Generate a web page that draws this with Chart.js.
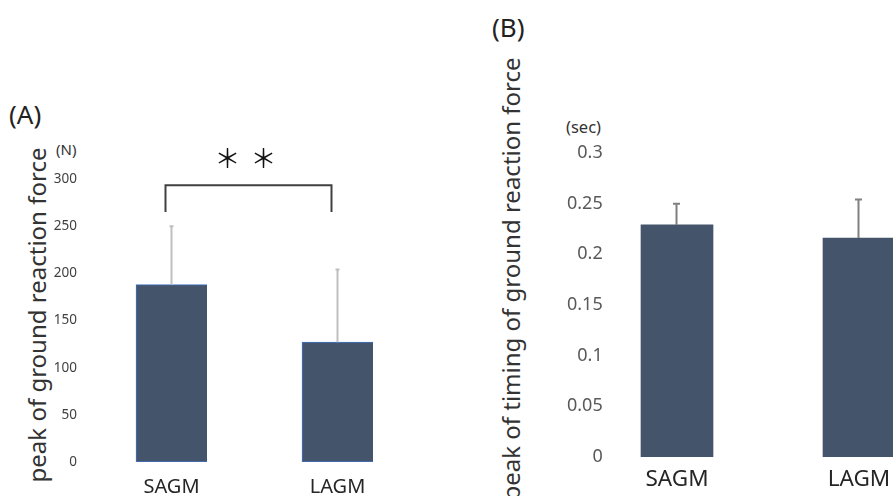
<!DOCTYPE html>
<html>
<head>
<meta charset="utf-8">
<script src="https://cdn.jsdelivr.net/npm/chart.js@4.4.1/dist/chart.umd.min.js"></script>
<style>
  html, body { margin: 0; padding: 0; width: 893px; height: 496px; overflow: hidden; background: #fff; font-family: "Noto Sans", sans-serif; }
  .box { position: absolute; top: 0; height: 496px; }
  #boxA { left: 0; width: 460px; }
  #boxB { left: 480px; width: 480px; }
  .lbl { position: absolute; white-space: nowrap; line-height: 1; color: #222; }
  .ytitle { position: absolute; white-space: nowrap; line-height: 1; font-size: 24px; color: #333;
            transform: translate(-50%, -50%) rotate(-90deg); }
</style>
</head>
<body>
<div class="lbl" style="left:9px;top:101px;font-size:26px;">(A)</div>
<div class="lbl" style="left:56px;top:142px;font-size:15px;color:#333;">(N)</div>
<div class="ytitle" style="left:37px;top:315px;">peak of ground reaction force</div>

<div class="lbl" style="left:492px;top:14px;font-size:26px;">(B)</div>
<div class="lbl" style="left:566px;top:119px;font-size:16.5px;color:#333;">(sec)</div>
<div class="ytitle" style="left:511px;top:279px;">peak of timing of ground reaction force</div>

<div class="box" id="boxA"><canvas id="chartA"></canvas></div>
<div class="box" id="boxB"><canvas id="chartB"></canvas></div>

<script>
// --- data ---
const categories = ["SAGM", "LAGM"];

const forceMeans = [188, 127];
const forceSD = [62, 77];
const forceTicks = [0, 50, 100, 150, 200, 250, 300];
const forceTickLabels = ["0", "50", "100", "150", "200", "250", "300"];

const timingMeans = [0.229, 0.216];
const timingSD = [0.021, 0.038];
const timingTicks = [0, 0.05, 0.1, 0.15, 0.2, 0.25, 0.3];
const timingTickLabels = ["0", "0.05", "0.1", "0.15", "0.2", "0.25", "0.3"];

const sigPair = [0, 1];      // SAGM vs LAGM
const sigMark = "＊";        // drawn twice -> "＊ ＊"

const FONT = "Noto Sans";
const BAR = "#44546A";

// mean + SD whiskers (upper side only)
const errorBars = {
  id: "errorBars",
  afterDatasetsDraw(chart, args, opts) {
    const { ctx, scales: { x, y } } = chart;
    ctx.save();
    ctx.strokeStyle = opts.color;
    ctx.lineWidth = opts.width;
    opts.means.forEach((m, i) => {
      const px = Math.round(x.getPixelForValue(i)) - 0.5;
      const yMean = y.getPixelForValue(m);
      const yTop = y.getPixelForValue(m + opts.sds[i]);
      ctx.beginPath();
      ctx.moveTo(px, yMean);
      ctx.lineTo(px, yTop);
      ctx.moveTo(px - opts.cap, yTop);
      ctx.lineTo(px + opts.cap, yTop);
      ctx.stroke();
    });
    ctx.restore();
  }
};

// significance bracket with stars
const sigBracket = {
  id: "sigBracket",
  afterDraw(chart, args, opts) {
    if (!opts.pair) return;
    const { ctx, scales: { x, y } } = chart;
    const x1 = x.getPixelForValue(opts.pair[0]) + opts.shift;
    const x2 = x.getPixelForValue(opts.pair[1]) + opts.shift;
    const yTop = y.getPixelForValue(opts.top);
    const yLeg = y.getPixelForValue(opts.leg);
    ctx.save();
    ctx.strokeStyle = "#404040";
    ctx.lineWidth = 2;
    ctx.beginPath();
    ctx.moveTo(x1, yLeg);
    ctx.lineTo(x1, yTop);
    ctx.lineTo(x2, yTop);
    ctx.lineTo(x2, yLeg);
    ctx.stroke();
    ctx.fillStyle = "#111";
    ctx.font = "26px 'Noto Sans CJK JP'";
    ctx.textAlign = "center";
    ctx.textBaseline = "middle";
    const mid = (x1 + x2) / 2 - 3;
    const ys = y.getPixelForValue(opts.labelAt);
    ctx.fillText(opts.mark, mid - 18, ys);
    ctx.fillText(opts.mark, mid + 18, ys);
    ctx.restore();
  }
};

function makeChart(id, cfg) {
  return new Chart(document.getElementById(id), {
    type: "bar",
    data: {
      labels: categories,
      datasets: [{
        data: cfg.means,
        backgroundColor: BAR,
        borderColor: cfg.border,
        borderWidth: cfg.borderWidth,
        borderSkipped: false,
        barThickness: cfg.barWidth
      }]
    },
    options: {
      responsive: true,
      maintainAspectRatio: false,
      animation: false,
      layout: { padding: cfg.padding },
      plugins: {
        legend: { display: false },
        tooltip: { enabled: false },
        errorBars: cfg.err,
        sigBracket: cfg.sig || {}
      },
      scales: {
        x: {
          grid: { display: false },
          border: { display: false },
          ticks: { font: { family: FONT, size: cfg.xFont }, color: "#262626", padding: cfg.xPad },
          afterFit: s => { s.height = cfg.xHeight; }
        },
        y: {
          min: cfg.ticks[0],
          max: cfg.ticks[cfg.ticks.length - 1],
          afterBuildTicks: s => { s.ticks = cfg.ticks.map(v => ({ value: v })); },
          grid: { display: false },
          border: { display: false },
          ticks: {
            autoSkip: false,
            mirror: cfg.yMirror,
            crossAlign: cfg.yMirror ? "far" : "near",
            font: { family: FONT, size: cfg.yFont },
            color: cfg.yColor,
            padding: cfg.yPad,
            callback: (v, i) => cfg.tickLabels[i]
          },
          afterFit: s => { s.width = cfg.yWidth; }
        }
      }
    },
    plugins: [errorBars, sigBracket]
  });
}

// (A) peak force
makeChart("chartA", {
  means: forceMeans,
  ticks: forceTicks,
  tickLabels: forceTickLabels,
  barWidth: 71,
  border: "#4472C4",
  borderWidth: { top: 1, left: 1, bottom: 1, right: 0 },
  padding: { top: 179, right: 39.5, bottom: 0, left: 0 },
  xFont: 20, xPad: 5, xHeight: 34,
  yFont: 13.5, yColor: "#404040", yPad: 3.5, yWidth: 88.5, yMirror: false,
  err: { means: forceMeans, sds: forceSD, color: "#BFBFBF", width: 2, cap: 2 },
  sig: { pair: sigPair, shift: -6, top: 293.5, leg: 265, labelAt: 322, mark: sigMark }
});

// (B) timing of peak -- labels sit a little right of the category band edge
makeChart("chartB", {
  means: timingMeans,
  ticks: timingTicks,
  tickLabels: timingTickLabels,
  barWidth: 72,
  border: BAR,
  borderWidth: 0,
  padding: { top: 153, right: 10, bottom: 0, left: 0 },
  xFont: 22.5, xPad: 1, xHeight: 39,
  yFont: 18, yColor: "#595959", yPad: -19, yWidth: 106, yMirror: true,
  err: { means: timingMeans, sds: timingSD, color: "#808080", width: 2, cap: 3.5 }
});
</script>
</body>
</html>
